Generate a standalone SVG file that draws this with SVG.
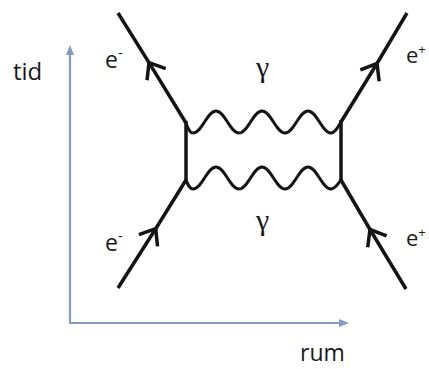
<svg xmlns="http://www.w3.org/2000/svg" width="429" height="369" viewBox="0 0 429 369">
  <style>
    .fermion { fill: none; stroke: #141414; stroke-width: 3.5; stroke-linecap: butt; marker-mid: url(#chev); }
    .line { fill: none; stroke: #141414; stroke-width: 3.5; }
    .photon { fill: none; stroke: #141414; stroke-width: 3; stroke-linejoin: round; }
    .axis { fill: none; stroke: #7f9ccf; stroke-width: 2.2; }
    .lbl { font-family: "Open Sans", "Liberation Sans", sans-serif; fill: #1a1a1a; }
    .gam { font-family: "Liberation Serif", "DejaVu Serif", serif; font-size: 30px; fill: #1a1a1a; }
  </style>
  <defs>
    <marker id="chev" markerUnits="userSpaceOnUse" markerWidth="40" markerHeight="40" refX="20" refY="20" orient="auto" viewBox="0 0 40 40">
      <path d="M6,9 L20,20 L6,31" fill="none" stroke="#141414" stroke-width="3.5" stroke-linejoin="miter"/>
    </marker>
    <marker id="blueHead" markerUnits="userSpaceOnUse" markerWidth="12" markerHeight="12" refX="1" refY="6" orient="auto" viewBox="0 0 12 12">
      <path d="M0,2 L10,6 L0,10 Z" fill="#7f9ccf"/>
    </marker>
  </defs>

  <g id="axes">
    <path id="time-axis" class="axis" d="M70,323 L70,54" marker-end="url(#blueHead)"/>
    <path id="space-axis" class="axis" d="M69,323 L340,323" marker-end="url(#blueHead)"/>
  </g>

  <g id="connectors">
    <path id="e-out" class="fermion" d="M186,123 L149,62.6 L118,13"/>
    <path id="e-in" class="fermion" d="M118,288 L155.7,228.7 L186,180"/>
    <path id="p-out" class="fermion" d="M341,122 L377,63.5 L407,13"/>
    <path id="p-in" class="fermion" d="M406,289 L370,229.5 L341,180"/>
    <path id="prop-left" class="line" d="M186,121 L186,182"/>
    <path id="prop-right" class="line" d="M341,120 L341,182"/>
    <path id="photon-top" class="photon" d="M186,123 C188,128 189.5,133 193,133 C202,133 207,111 216,111 S230,133 239,133 S253,111 262,111 S276,133 285,133 S299,111 308,111 S322,133 331,133 C335,133 338,127 341,122"/>
    <path id="photon-bottom" class="photon" d="M186,180 C188,185 189.5,189 193,189 C202,189 207,167 216,167 S230,189 239,189 S253,167 262,167 S276,189 285,189 S299,167 308,167 S322,189 331,189 C335,189 338,184 341,180"/>
  </g>

  <g id="label-tid"><text class="lbl" x="13" y="80" font-size="24">tid</text></g>
  <g id="label-rum"><text class="lbl" x="300" y="361" font-size="23">rum</text></g>
  <g id="label-e-top-left"><text class="lbl" x="105" y="68" font-size="23">e<tspan font-size="15" dy="-10">-</tspan></text></g>
  <g id="label-e-bottom-left"><text class="lbl" x="105" y="251" font-size="23">e<tspan font-size="15" dy="-10">-</tspan></text></g>
  <g id="label-e-top-right"><text class="lbl" x="406" y="63" font-size="22">e<tspan font-size="13" dy="-9">+</tspan></text></g>
  <g id="label-e-bottom-right"><text class="lbl" x="406" y="246" font-size="22">e<tspan font-size="13" dy="-9">+</tspan></text></g>
  <g id="label-gamma-top"><text class="gam" x="256" y="77">γ</text></g>
  <g id="label-gamma-bottom"><text class="gam" x="256" y="230">γ</text></g>
</svg>
